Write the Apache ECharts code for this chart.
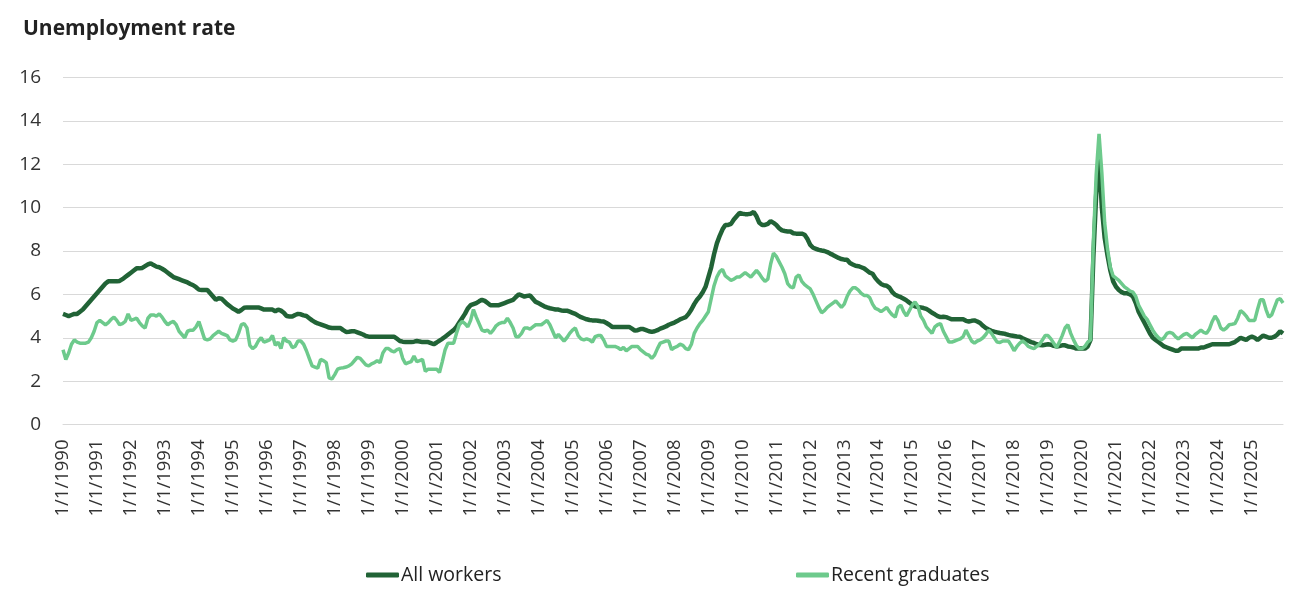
<!DOCTYPE html>
<html lang="en">
<head>
    <meta charset="UTF-8">
    <title>Unemployment rate</title>
    <script src="https://cdn.jsdelivr.net/npm/echarts@6/dist/echarts.min.js"></script>
    <style>
        html, body {margin: 0; padding: 0; background: #fff;}
        #main {width: 1303px; height: 599px;}
    </style>
</head>
<body>
<div id="main"></div>
<script>
    // monthly, starting 1/1/1990 (one row per year)
    let startYear = 1990;
    let seriesNames = ['All workers', 'Recent graduates'];

    let allWorkers = [
        5.1, 5.05, 5.0, 5.05, 5.1, 5.1, 5.2, 5.3, 5.45, 5.6, 5.75, 5.9,
        6.05, 6.2, 6.35, 6.5, 6.6, 6.6, 6.6, 6.6, 6.62, 6.7, 6.8, 6.9,
        7.0, 7.1, 7.2, 7.2, 7.22, 7.3, 7.38, 7.43, 7.35, 7.28, 7.25, 7.18,
        7.1, 7.0, 6.9, 6.8, 6.75, 6.7, 6.65, 6.6, 6.55, 6.48, 6.42, 6.33,
        6.22, 6.2, 6.2, 6.2, 6.05, 5.9, 5.75, 5.82, 5.8, 5.68, 5.55, 5.45,
        5.35, 5.28, 5.2, 5.28, 5.38, 5.4, 5.4, 5.4, 5.4, 5.4, 5.35, 5.3,
        5.3, 5.3, 5.3, 5.22, 5.3, 5.25, 5.15, 5.0, 4.98, 4.98, 5.05, 5.1,
        5.08, 5.03, 5.0, 4.9, 4.8, 4.72, 4.66, 4.62, 4.57, 4.52, 4.47, 4.45,
        4.45, 4.45, 4.45, 4.35, 4.27, 4.28, 4.3, 4.3, 4.25, 4.2, 4.15, 4.08,
        4.05, 4.05, 4.05, 4.05, 4.05, 4.05, 4.05, 4.05, 4.05, 4.05, 3.95, 3.85,
        3.82, 3.8, 3.8, 3.8, 3.82, 3.85, 3.83, 3.8, 3.8, 3.8, 3.75, 3.7,
        3.78, 3.87, 3.95, 4.05, 4.15, 4.25, 4.35, 4.5, 4.7, 4.9, 5.1, 5.35,
        5.5, 5.55, 5.6, 5.68, 5.75, 5.7, 5.6, 5.5, 5.5, 5.5, 5.5, 5.55,
        5.6, 5.65, 5.7, 5.75, 5.88, 6.0, 5.95, 5.9, 5.93, 5.95, 5.8, 5.65,
        5.6, 5.52, 5.45, 5.4, 5.36, 5.33, 5.3, 5.3, 5.26, 5.25, 5.25, 5.2,
        5.15, 5.1, 5.02, 4.95, 4.9, 4.85, 4.82, 4.8, 4.8, 4.78, 4.76, 4.75,
        4.68, 4.6, 4.5, 4.5, 4.5, 4.5, 4.5, 4.5, 4.5, 4.42, 4.33, 4.35,
        4.4, 4.4, 4.35, 4.3, 4.27, 4.3, 4.35, 4.42, 4.47, 4.52, 4.6, 4.65,
        4.7, 4.77, 4.85, 4.9, 4.95, 5.1, 5.3, 5.55, 5.75, 5.9, 6.1, 6.35,
        6.8, 7.25, 7.85, 8.35, 8.7, 9.0, 9.2, 9.2, 9.25, 9.45, 9.6, 9.75,
        9.72, 9.7, 9.7, 9.72, 9.8, 9.6, 9.3, 9.2, 9.2, 9.25, 9.38, 9.3,
        9.2, 9.05, 8.95, 8.92, 8.9, 8.9, 8.82, 8.8, 8.8, 8.8, 8.75, 8.55,
        8.28, 8.15, 8.1, 8.05, 8.02, 8.0, 7.95, 7.88, 7.82, 7.75, 7.68, 7.63,
        7.6, 7.6, 7.45, 7.38, 7.32, 7.3, 7.25, 7.2, 7.1, 7.0, 6.95, 6.75,
        6.6, 6.48, 6.42, 6.4, 6.3, 6.1, 5.98, 5.92, 5.87, 5.8, 5.72, 5.62,
        5.53, 5.45, 5.42, 5.4, 5.37, 5.33, 5.25, 5.15, 5.08, 5.0, 4.95, 4.97,
        4.95, 4.9, 4.85, 4.85, 4.85, 4.85, 4.85, 4.78, 4.75, 4.78, 4.8, 4.75,
        4.68, 4.55, 4.45, 4.38, 4.32, 4.28, 4.25, 4.22, 4.2, 4.17, 4.13, 4.1,
        4.08, 4.06, 4.05, 3.98, 3.92, 3.86, 3.8, 3.76, 3.7, 3.66, 3.65, 3.68,
        3.7, 3.68, 3.63, 3.6, 3.62, 3.65, 3.65, 3.6, 3.58, 3.55, 3.5, 3.5,
        3.5, 3.5, 3.6, 3.9, 7.7, 10.6, 12.4, 10.0, 8.6, 7.8, 7.1, 6.6,
        6.35, 6.2, 6.1, 6.05, 6.05, 6.0, 5.9, 5.6, 5.2, 4.95, 4.7, 4.45,
        4.2, 4.0, 3.9, 3.8, 3.7, 3.6, 3.55, 3.5, 3.45, 3.4, 3.4, 3.5,
        3.5, 3.5, 3.5, 3.5, 3.5, 3.5, 3.55, 3.55, 3.6, 3.65, 3.7, 3.7,
        3.7, 3.7, 3.7, 3.7, 3.7, 3.75, 3.8, 3.9, 4.0, 3.95, 3.9, 4.0,
        4.05, 4.0, 3.9, 4.0, 4.1, 4.05, 4.0, 4.0, 4.05, 4.15, 4.3, 4.2
    ];

    let recentGrads = [
        3.45, 3.0, 3.3, 3.7, 3.9, 3.8, 3.75, 3.75, 3.75, 3.8, 4.0, 4.3,
        4.7, 4.8, 4.7, 4.6, 4.7, 4.85, 4.95, 4.8, 4.6, 4.65, 4.75, 5.1,
        4.8, 4.85, 4.9, 4.7, 4.55, 4.45, 4.9, 5.05, 5.05, 5.0, 5.1, 4.95,
        4.75, 4.6, 4.7, 4.75, 4.6, 4.3, 4.15, 4.0, 4.3, 4.35, 4.35, 4.5,
        4.75, 4.35, 3.95, 3.9, 3.95, 4.1, 4.2, 4.3, 4.2, 4.15, 4.1, 3.9,
        3.85, 3.9, 4.2, 4.6, 4.65, 4.45, 3.65, 3.5, 3.6, 3.85, 4.0, 3.8,
        3.85, 3.9, 4.1, 3.65, 3.8, 3.5, 4.0, 3.85, 3.8, 3.55, 3.6, 3.85,
        3.85, 3.7, 3.4, 3.05, 2.7, 2.65, 2.6, 3.0, 2.95, 2.85, 2.15, 2.1,
        2.3, 2.55, 2.6, 2.62, 2.65, 2.7, 2.8, 2.95, 3.1, 3.05, 2.9, 2.75,
        2.7, 2.8, 2.85, 2.95, 2.85, 3.3, 3.5, 3.5, 3.4, 3.35, 3.45, 3.5,
        3.05, 2.8, 2.85, 2.9, 3.15, 2.9, 2.95, 3.0, 2.45, 2.55, 2.55, 2.55,
        2.55, 2.4, 2.9, 3.45, 3.75, 3.75, 3.75, 4.2, 4.6, 4.75, 4.65, 4.5,
        4.8, 5.3, 4.95, 4.65, 4.35, 4.3, 4.35, 4.2, 4.35, 4.55, 4.65, 4.7,
        4.7, 4.9, 4.7, 4.45, 4.05, 4.05, 4.2, 4.45, 4.45, 4.4, 4.5, 4.6,
        4.6, 4.6, 4.7, 4.8, 4.6, 4.3, 4.0, 4.15, 4.0, 3.85, 4.0, 4.2,
        4.35, 4.45, 4.1, 3.95, 3.9, 3.95, 3.9, 3.8, 4.05, 4.1, 4.1, 3.9,
        3.6, 3.6, 3.6, 3.6, 3.55, 3.45, 3.55, 3.4, 3.5, 3.6, 3.6, 3.6,
        3.45, 3.35, 3.25, 3.2, 3.05, 3.2, 3.5, 3.75, 3.8, 3.85, 3.85, 3.45,
        3.55, 3.6, 3.7, 3.65, 3.5, 3.45, 3.7, 4.2, 4.45, 4.65, 4.8, 5.0,
        5.2, 5.8, 6.4, 6.8, 7.05, 7.15, 6.85, 6.75, 6.65, 6.7, 6.8, 6.8,
        6.9, 7.0, 6.9, 6.8, 6.95, 7.1, 6.95, 6.75, 6.6, 6.7, 7.4, 7.9,
        7.75, 7.5, 7.25, 6.95, 6.5, 6.35, 6.3, 6.8, 6.9, 6.6, 6.45, 6.35,
        6.25, 6.0, 5.7, 5.4, 5.15, 5.25, 5.4, 5.5, 5.6, 5.7, 5.55, 5.4,
        5.55, 5.9, 6.15, 6.3, 6.3, 6.2, 6.05, 5.95, 5.95, 5.85, 5.55, 5.35,
        5.3, 5.2, 5.3, 5.4, 5.2, 5.05, 4.95, 5.4, 5.5, 5.2, 5.0, 5.25,
        5.5, 5.65, 5.45, 5.0, 4.8, 4.5, 4.35, 4.2, 4.5, 4.6, 4.65, 4.3,
        4.05, 3.8, 3.8, 3.85, 3.9, 3.95, 4.05, 4.35, 4.1, 3.85, 3.75, 3.85,
        3.9, 4.0, 4.15, 4.35, 4.2, 4.0, 3.8, 3.78, 3.85, 3.85, 3.85, 3.65,
        3.4, 3.6, 3.75, 3.85, 3.75, 3.6, 3.55, 3.5, 3.6, 3.7, 3.9, 4.1,
        4.1, 3.95, 3.75, 3.55, 3.8, 4.1, 4.45, 4.6, 4.2, 3.9, 3.65, 3.5,
        3.5, 3.6, 3.8, 3.9, 8.4, 11.5, 13.4, 11.6, 9.3, 8.1, 7.25, 6.85,
        6.75, 6.65, 6.5, 6.35, 6.25, 6.15, 6.1, 5.9, 5.5, 5.25, 5.0, 4.85,
        4.6, 4.35, 4.15, 4.0, 3.9, 4.0, 4.2, 4.25, 4.2, 4.05, 3.95, 4.05,
        4.15, 4.2, 4.1, 4.0, 4.15, 4.25, 4.35, 4.25, 4.2, 4.4, 4.75, 5.0,
        4.8, 4.45, 4.35, 4.45, 4.6, 4.62, 4.65, 4.9, 5.25, 5.15, 5.0, 4.8,
        4.8, 4.8, 5.3, 5.75, 5.75, 5.3, 4.95, 5.05, 5.4, 5.75, 5.8, 5.6
    ];

    // category labels M/1/YYYY
    let months = [];
    for (let i = 0; i < allWorkers.length; i++) {
        months.push((i % 12 + 1) + '/1/' + (startYear + Math.floor(i / 12)));
    }

    let font = 'Open Sans';
    let legendText = {fontFamily: font, fontSize: 19.5, color: '#222', padding: [0, 0, 0, -3]};

    let myChart = echarts.init(document.getElementById('main'));
    let option = {
        animation: false,
        title: {
            text: 'Unemployment rate',
            left: 18,
            top: 14,
            textStyle: {fontFamily: font, fontSize: 21, fontWeight: 'bold', color: '#222'}
        },
        legend: [
            {
                data: [seriesNames[0]],
                left: 361, top: 560,
                itemWidth: 33, itemHeight: 5,
                icon: 'roundRect',
                textStyle: legendText
            },
            {
                data: [seriesNames[1]],
                left: 791, top: 560,
                itemWidth: 33, itemHeight: 5,
                icon: 'roundRect',
                textStyle: legendText
            }
        ],
        grid: {left: 63, right: 20, top: 77.5, bottom: 174.5},
        xAxis: {
            type: 'category',
            boundaryGap: false,
            data: months,
            axisLine: {lineStyle: {color: '#d9d9d9'}},
            axisTick: {show: false},
            axisLabel: {
                interval: 11,
                rotate: 90,
                margin: 15,
                fontFamily: font,
                fontSize: 18.5,
                color: '#333'
            }
        },
        yAxis: {
            type: 'value',
            min: 0,
            max: 16,
            interval: 2,
            axisLabel: {margin: 22, fontFamily: font, fontSize: 19, color: '#333'},
            splitLine: {lineStyle: {color: '#d9d9d9'}}
        },
        series: [
            {
                name: seriesNames[0],
                type: 'line',
                data: allWorkers,
                showSymbol: false,
                symbol: 'none',
                itemStyle: {color: '#216336'},
                lineStyle: {color: '#216336', width: 4.5}
            },
            {
                name: seriesNames[1],
                type: 'line',
                data: recentGrads,
                showSymbol: false,
                symbol: 'none',
                itemStyle: {color: '#6dca8c'},
                lineStyle: {color: '#6dca8c', width: 3.5}
            }
        ]
    };
    myChart.setOption(option);
</script>
</body>
</html>
